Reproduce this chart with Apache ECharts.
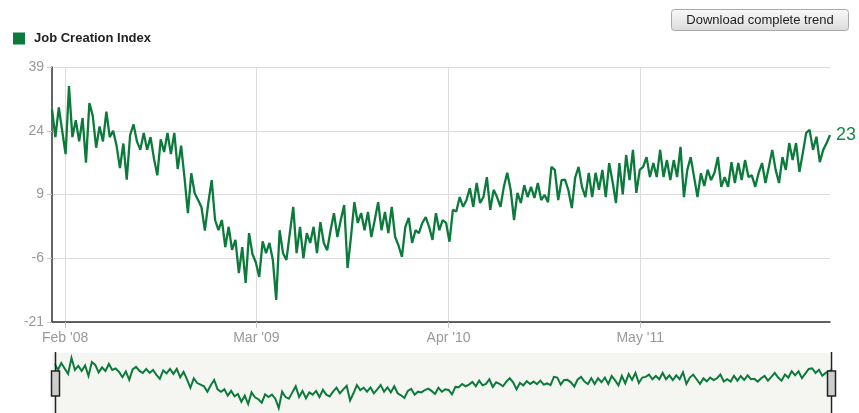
<!DOCTYPE html>
<html><head><meta charset="utf-8">
<script src="https://cdn.jsdelivr.net/npm/echarts@6/dist/echarts.min.js"></script>
<style>html,body{margin:0;padding:0;background:#fff}#c{width:859px;height:413px}</style>
</head><body><div id="c"></div>
<script>
const seriesName = 'Job Creation Index';
const startDate = '2008-01-05';
const stepDays = 7;
// weekly readings of the index, Jan 2008 – May 2012
const jobCreation = [
  29, 22.5, 29.5, 24, 18.5, 34.5, 22.5, 26.5, 21.5, 27, 16.5, 30.5, 27.5, 20, 25, 21.5, 28.5, 22.5, 24, 20.5,
  15.2, 21, 12.5, 23, 25.5, 21.5, 19.5, 23.5, 19.5, 22.5, 17.5, 13.5, 22, 19, 23.5, 18.5, 23.5, 15,
  20.5, 13, 4.6, 14, 9.3, 7.7, 6, 0.5, 7, 12.4, 3, 0.6, 3, -3.4, 1.4, -4, -1.7, -9.5, -3.4, -11.8,
  -0.1, -5, -7, -10.4, -2, -4.8, -2.4, -6.4, -15.8, 0.6, -4.8, -6.4, -0.1, 6.1, -4.8, 1.4, -6,
  -0.1, -2.4, 1.4, -4.8, 2.5, -2.4, -4.1, 0.6, 4.6, -1, 3, 6.5, -8.3, -1, 7.2, 2.3, 4.6, 0.6, 4.9, -1,
  3, 7.2, 0.6, 4.9, -0.1, 6.1, -1, -3, -5.7, 1.4, 3.5, -2.4, 0.6, -0.1, 2.3, 3.7, 1.4,
  -1.7, 4.6, 0.6, 3, 2.3, -2.1, 5.4, 5, 8.4, 6.1, 7.7, 10.5, 6.1, 11.7, 7, 8.4, 13.1, 5.4, 10.1, 8.4,
  6.1, 10.8, 14.1, 10.1, 3, 9.4, 7, 11.2, 8.4, 10.8, 8.2, 11.7, 7.7, 8.9, 7.2, 15.5, 14.8, 7.7, 12.4,
  12.5, 10, 5.8, 13, 15.5, 10.8, 8.4, 14.1, 8.4, 14.1, 10.1, 14.8, 8.4, 16.4, 12, 7, 16.4, 9, 18.3, 12.4,
  19.5, 9.4, 14.8, 15.5, 17.8, 13.1, 16.4, 13.1, 19.5, 13.1, 17.1, 12.4, 17.1, 13.1, 20.2, 8.4, 14.8, 17.8, 13.1,
  8.4, 14, 11, 14.8, 12.4, 14.1, 17.8, 10.8, 13.1, 10.8, 16.6, 11.7, 16.4, 12.4, 17.1, 13.1, 13.5, 10.8, 14.1, 16.4,
  11.7, 15.5, 19.5, 14.8, 11.7, 17.8, 14.8, 21.1, 17.1, 21.1, 14.3, 18.8, 23.5, 24.2, 19.5, 22.6, 16.6, 19.5, 21.1, 23
];
const yTicks = [-21, -6, 9, 24, 39];
const xTickDates = ['2008-02-01', '2009-03-01', '2010-04-01', '2011-05-01'];
const xTickLabels = ["Feb '08", "Mar '09", "Apr '10", "May '11"];
const buttonText = 'Download complete trend';

const GREEN = '#0b7a3b';
const FONT = '"Liberation Sans", Arial, sans-serif';
const DAY = 86400000;
const t0 = Date.parse(startDate);
const seriesData = jobCreation.map((v, i) => [t0 + i * stepDays * DAY, v]);
const tickTimes = xTickDates.map(d => Date.parse(d));

const chart = echarts.init(document.getElementById('c'), null, {renderer: 'canvas'});
chart.setOption({
  animation: false,
  textStyle: {fontFamily: FONT},
  legend: {
    left: 13, top: 32, padding: 0, itemWidth: 12, itemHeight: 12, selectedMode: false,
    data: [{name: seriesName, icon: 'rect', itemStyle: {color: GREEN}}],
    textStyle: {fontWeight: 'bold', fontSize: 13, color: '#222', fontFamily: FONT, padding: [0, 0, 0, 4]}
  },
  grid: {left: 52, right: 29, top: 67, bottom: 91, containLabel: false},
  xAxis: {
    type: 'value', scale: true,
    min: seriesData[0][0], max: seriesData[seriesData.length - 1][0],
    axisLine: {show: true, onZero: false, lineStyle: {color: '#333', width: 1.5}},
    axisTick: {show: true, customValues: tickTimes, length: 6, lineStyle: {color: '#c8c8c8'}},
    axisLabel: {
      customValues: tickTimes, color: '#999', fontSize: 14, margin: 9, fontFamily: FONT,
      formatter: v => { const k = tickTimes.indexOf(v); return k >= 0 ? xTickLabels[k] : ''; }
    },
    splitLine: {show: true, lineStyle: {color: '#dcdcdc', width: 1}}
  },
  yAxis: {
    type: 'value', min: yTicks[0], max: yTicks[yTicks.length - 1],
    axisLine: {show: true, lineStyle: {color: '#333', width: 1.5}},
    axisTick: {show: true, customValues: yTicks, length: 5, lineStyle: {color: '#c8c8c8'}},
    axisLabel: {customValues: yTicks, color: '#999', fontSize: 14, margin: 8, fontFamily: FONT},
    splitLine: {show: true, lineStyle: {color: '#dcdcdc', width: 1}}
  },
  dataZoom: [{
    type: 'slider', xAxisIndex: 0, z: 6,
    left: 52, right: 29, top: 343, height: 80,
    backgroundColor: 'rgba(0,0,0,0)', borderColor: 'rgba(0,0,0,0)', fillerColor: 'rgba(0,0,0,0)',
    dataBackground: {lineStyle: {color: GREEN, width: 2, opacity: 1}, areaStyle: {opacity: 0}},
    selectedDataBackground: {lineStyle: {color: GREEN, width: 2, opacity: 1}, areaStyle: {opacity: 0}},
    handleIcon: 'path://M4,0L4,18 M0,18L8,18L8,43L0,43Z M4,43L4,62',
    handleSize: 62,
    handleStyle: {color: '#cdcdcd', borderColor: '#222', borderWidth: 1.5},
    moveHandleSize: 0, brushSelect: false, showDetail: false, showDataShadow: true,
    emphasis: {handleStyle: {color: '#cdcdcd', borderColor: '#222'}}
  }],
  graphic: [
    {type: 'rect', z: 0, silent: true, shape: {x: 52, y: 353, width: 778, height: 60}, style: {fill: '#f5f5f2'}},
    {type: 'group', children: [
      {type: 'rect', shape: {x: 671.5, y: 9.5, width: 177, height: 21, r: 3},
        style: {fill: {type: 'linear', x: 0, y: 0, x2: 0, y2: 1,
          colorStops: [{offset: 0, color: '#fafafa'}, {offset: 1, color: '#dadada'}]},
          stroke: '#a9a9a9', lineWidth: 1}},
      {type: 'text', x: 760, y: 20.5,
        style: {text: buttonText, fontSize: 13, fontFamily: FONT, fill: '#222', align: 'center', verticalAlign: 'middle'}}
    ]}
  ],
  series: [{
    name: seriesName, type: 'line', data: seriesData, showSymbol: false,
    lineStyle: {color: GREEN, width: 2.3}, itemStyle: {color: GREEN},
    endLabel: {show: true, formatter: p => String(p.value[1]), color: '#17884a', fontSize: 18, distance: 6, fontFamily: FONT}
  }]
});
</script></body></html>
